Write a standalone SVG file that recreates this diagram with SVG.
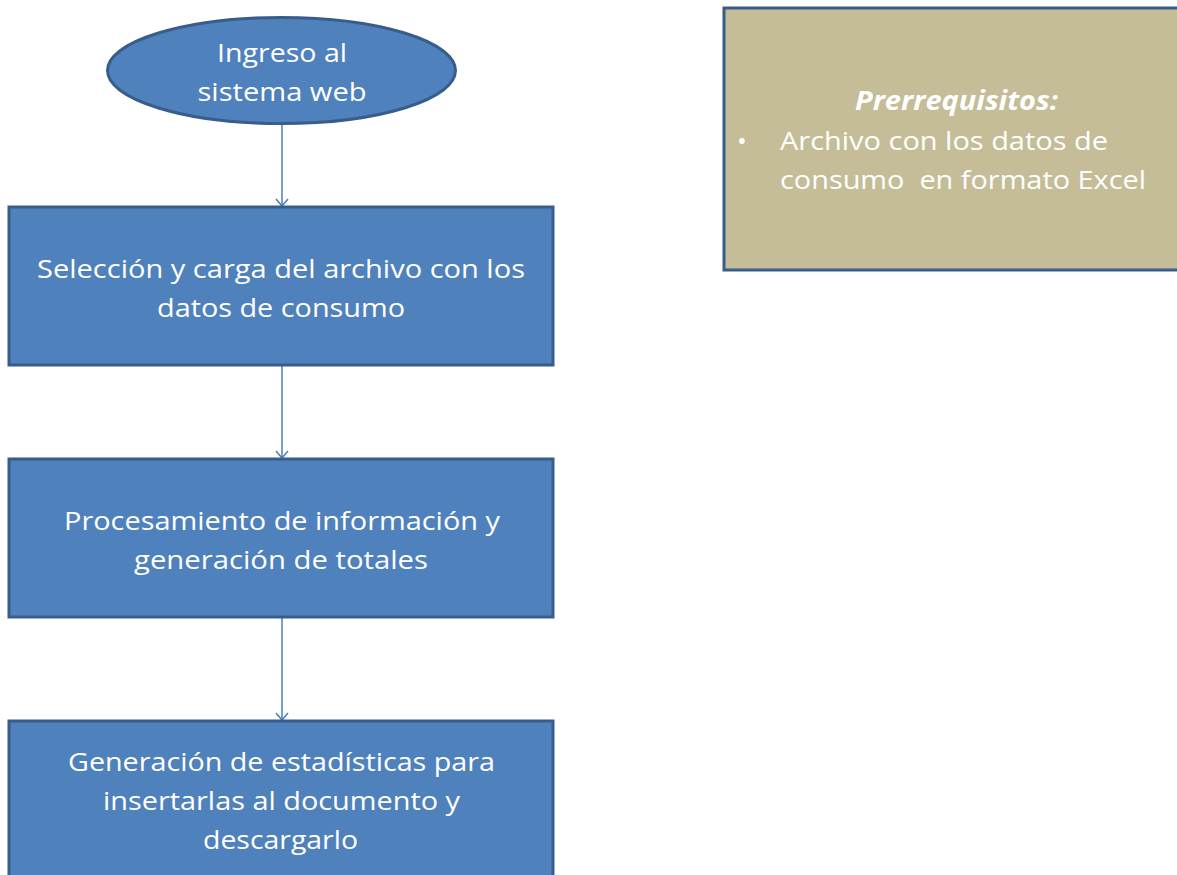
<svg xmlns="http://www.w3.org/2000/svg" width="1177" height="875" viewBox="0 0 1177 875">
<defs>
<style>
.n{fill:#4F81BD;stroke:#385D8A;stroke-width:3}
.p{fill:#C4BD97;stroke:#385D8A;stroke-width:3}
.t{font-family:"Open Sans","Liberation Sans",sans-serif;font-size:26px;fill:#FFFFFF;text-anchor:middle}
.tl{font-family:"Open Sans","Liberation Sans",sans-serif;font-size:26px;fill:#FFFFFF}
.c{stroke:#4A7EBB;stroke-width:1.5;fill:none}
</style>
<marker id="ah" markerWidth="14" markerHeight="14" refX="12.5" refY="7" orient="auto" markerUnits="userSpaceOnUse" viewBox="0 0 14 14">
<polyline points="5.5,1 12.5,7 5.5,13" fill="none" stroke="#4A7EBB" stroke-width="1.5"/>
</marker>
</defs>
<rect width="1177" height="875" fill="#FFFFFF"/>
<g id="connectors">
<line class="c" x1="282" y1="124" x2="282" y2="206" marker-end="url(#ah)"/>
<line class="c" x1="282" y1="366" x2="282" y2="458" marker-end="url(#ah)"/>
<line class="c" x1="282" y1="618" x2="282" y2="720" marker-end="url(#ah)"/>
</g>
<g id="start">
<ellipse class="n" cx="281.5" cy="70.5" rx="174" ry="53"/>
<text class="t" x="282" y="62" textLength="130" lengthAdjust="spacingAndGlyphs">Ingreso al</text>
<text class="t" x="282" y="101" textLength="169" lengthAdjust="spacingAndGlyphs">sistema web</text>
</g>
<g id="step1">
<rect class="n" x="9" y="207" width="544" height="158"/>
<text class="t" x="281" y="278" textLength="488" lengthAdjust="spacingAndGlyphs">Selección y carga del archivo con los</text>
<text class="t" x="281" y="317" textLength="248" lengthAdjust="spacingAndGlyphs">datos de consumo</text>
</g>
<g id="step2">
<rect class="n" x="9" y="459" width="544" height="158"/>
<text class="t" x="282" y="530" textLength="436" lengthAdjust="spacingAndGlyphs">Procesamiento de información y</text>
<text class="t" x="281" y="569" textLength="294" lengthAdjust="spacingAndGlyphs">generación de totales</text>
</g>
<g id="step3">
<rect class="n" x="9" y="721" width="544" height="170"/>
<text class="t" x="281.5" y="771" textLength="427" lengthAdjust="spacingAndGlyphs">Generación de estadísticas para</text>
<text class="t" x="281.5" y="810" textLength="357" lengthAdjust="spacingAndGlyphs">insertarlas al documento y</text>
<text class="t" x="280.5" y="849" textLength="155" lengthAdjust="spacingAndGlyphs">descargarlo</text>
</g>
<g id="prereq">
<rect class="p" x="724" y="8" width="470" height="262"/>
<text class="tl" x="855" y="110" font-weight="bold" font-style="italic" textLength="203" lengthAdjust="spacingAndGlyphs">Prerrequisitos:</text>
<text class="tl" x="737" y="150">•</text>
<text class="tl" x="780" y="150" textLength="328" lengthAdjust="spacingAndGlyphs">Archivo con los datos de</text>
<text class="tl" x="780" y="189" textLength="366" lengthAdjust="spacingAndGlyphs" xml:space="preserve">consumo  en formato Excel</text>
</g>
</svg>
